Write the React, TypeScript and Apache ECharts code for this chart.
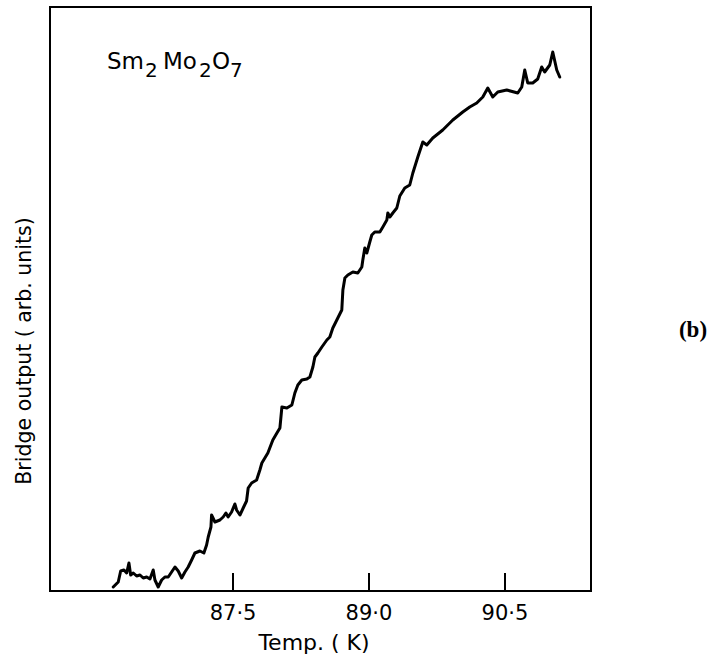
import React, { useEffect, useRef } from "react";
import * as echarts from "echarts";

// Temperature (K)
const temps = [
  86.178, 86.233, 86.26, 86.296, 86.326, 86.351, 86.37, 86.399, 86.436, 86.473,
  86.509, 86.547, 86.583, 86.619, 86.638, 86.674, 86.712, 86.748, 86.785, 86.822,
  86.859, 86.895, 86.933, 86.969, 87.005, 87.043, 87.079, 87.134, 87.178, 87.208,
  87.226, 87.256, 87.263, 87.3, 87.355, 87.391, 87.421, 87.446, 87.484, 87.52,
  87.539, 87.576, 87.612, 87.649, 87.667, 87.705, 87.76, 87.796, 87.818, 87.851,
  87.884, 87.939, 87.984, 88.017, 88.039, 88.094, 88.149, 88.182, 88.215, 88.259,
  88.314, 88.348, 88.381, 88.403, 88.436, 88.48, 88.535, 88.568, 88.601, 88.656,
  88.7, 88.712, 88.734, 88.767, 88.822, 88.877, 88.921, 88.932, 88.954, 88.976,
  89.009, 89.031, 89.064, 89.12, 89.153, 89.197, 89.208, 89.23, 89.263, 89.307,
  89.34, 89.395, 89.45, 89.484, 89.539, 89.594, 89.638, 89.704, 89.814, 89.925,
  90.035, 90.112, 90.189, 90.256, 90.311, 90.366, 90.421, 90.52, 90.642, 90.686,
  90.719, 90.752, 90.807, 90.862, 90.906, 90.939, 90.995, 91.028, 91.072, 91.105,
];

// Bridge output (arb. units)
const output = [
  4, 9, 20, 21, 18, 28, 16, 18, 15, 16,
  13, 14, 12, 21, 11, 4, 11, 14, 14, 19,
  24, 20, 13, 19, 24, 31, 38, 40, 38, 46,
  54, 64, 76, 69, 71, 74, 78, 74, 79, 87,
  81, 76, 83, 90, 103, 108, 111, 121, 128, 133,
  138, 151, 158, 163, 184, 183, 186, 198, 206, 211,
  212, 214, 224, 234, 238, 244, 251, 254, 263, 273,
  281, 301, 313, 316, 319, 318, 324, 331, 343, 338,
  349, 356, 359, 359, 364, 371, 378, 374, 378, 383,
  395, 403, 406, 418, 434, 449, 446, 453, 461, 471,
  479, 484, 488, 494, 503, 494, 499, 501, 498, 504,
  521, 508, 508, 512, 524, 519, 526, 539, 521, 514,
];

const xTicks = [87.5, 89.0, 90.5];

export default function App() {
  const ref = useRef<HTMLDivElement>(null);

  useEffect(() => {
    document.body.style.margin = "0";
    if (!ref.current) return;
    const chart = echarts.init(ref.current, null, { renderer: "svg" });
    const font = "DejaVu Sans";
    chart.setOption({
      animation: false,
      backgroundColor: "#ffffff",
      grid: {
        left: 50,
        right: 128,
        top: 7,
        bottom: 68,
        show: true,
        borderColor: "#000",
        borderWidth: 2,
      },
      xAxis: {
        type: "value",
        min: 85.48,
        max: 91.45,
        axisLine: { show: true, lineStyle: { color: "#000", width: 2 } },
        axisTick: {
          show: true,
          inside: true,
          length: 18,
          customValues: xTicks,
          lineStyle: { color: "#000", width: 2 },
        },
        axisLabel: {
          show: true,
          customValues: xTicks,
          margin: 11,
          color: "#000",
          fontFamily: font,
          fontSize: 21,
          formatter: (v: number) => v.toFixed(1).replace(".", "·"),
        },
        splitLine: { show: false },
      },
      yAxis: {
        type: "value",
        min: 0,
        max: 584,
        axisLine: { show: true, lineStyle: { color: "#000", width: 2 } },
        axisTick: { show: false },
        axisLabel: { show: false },
        splitLine: { show: false },
      },
      series: [
        {
          type: "line",
          data: temps.map((t, i) => [t, output[i]]),
          showSymbol: false,
          smooth: false,
          lineStyle: { color: "#000", width: 3, join: "round", cap: "round" },
        },
      ],
      graphic: [
        {
          type: "text",
          x: 107,
          y: 49,
          style: { text: "Sm", fontFamily: font, fontSize: 23, fill: "#000" },
        },
        {
          type: "text",
          x: 145,
          y: 60,
          style: { text: "2", fontFamily: font, fontSize: 20, fill: "#000" },
        },
        {
          type: "text",
          x: 163,
          y: 49,
          style: { text: "Mo", fontFamily: font, fontSize: 23, fill: "#000" },
        },
        {
          type: "text",
          x: 199,
          y: 60,
          style: { text: "2", fontFamily: font, fontSize: 20, fill: "#000" },
        },
        {
          type: "text",
          x: 212,
          y: 49,
          style: { text: "O", fontFamily: font, fontSize: 23, fill: "#000" },
        },
        {
          type: "text",
          x: 230,
          y: 60,
          style: { text: "7", fontFamily: font, fontSize: 20, fill: "#000" },
        },
        {
          type: "text",
          x: 24,
          y: 351,
          rotation: Math.PI / 2,
          style: {
            text: "Bridge output ( arb. units)",
            fontFamily: font,
            fontSize: 20.5,
            fill: "#000",
            align: "center",
            verticalAlign: "middle",
          },
        },
        {
          type: "text",
          x: 314,
          y: 642,
          style: {
            text: "Temp. ( K)",
            fontFamily: font,
            fontSize: 22,
            fill: "#000",
            align: "center",
            verticalAlign: "middle",
          },
        },
        {
          type: "text",
          x: 693,
          y: 329,
          style: {
            text: "(b)",
            fontFamily: "Liberation Serif",
            fontWeight: "bold",
            fontSize: 23,
            fill: "#000",
            align: "center",
            verticalAlign: "middle",
          },
        },
      ],
    });
    return () => chart.dispose();
  }, []);

  return <div ref={ref} style={{ width: 719, height: 659 }} />;
}
